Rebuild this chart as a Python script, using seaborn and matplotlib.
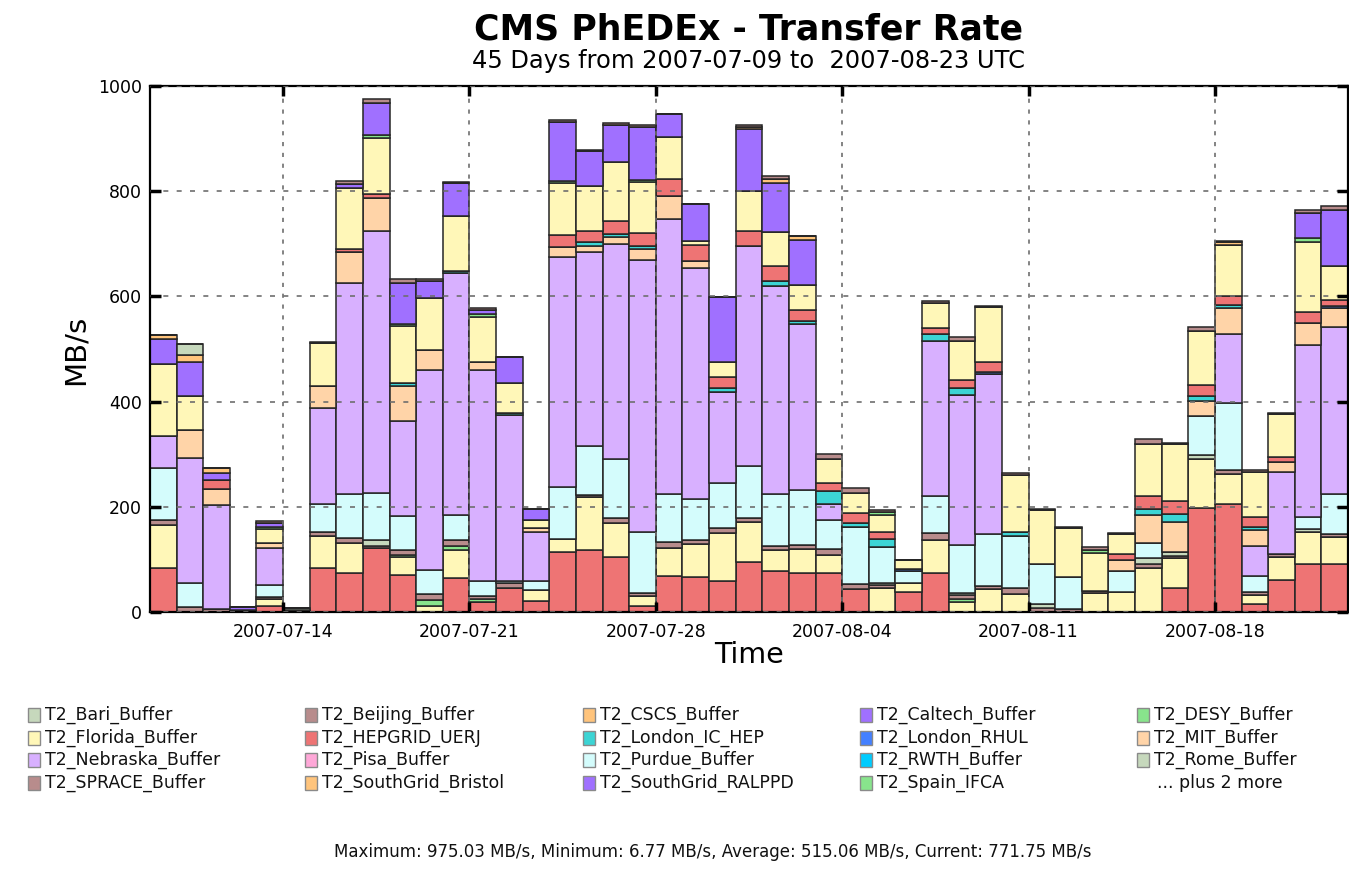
import numpy as np
import pandas as pd
import matplotlib
matplotlib.use("Agg")
import matplotlib.pyplot as plt
import seaborn as sns
from matplotlib.patches import Rectangle

# ---------------- data ----------------
days = pd.date_range("2007-07-09", periods=45, freq="D")
tick_days = ["2007-07-14", "2007-07-21", "2007-07-28", "2007-08-04", "2007-08-11", "2007-08-18"]

hepgrid = [84, 0, 0, 0, 12, 0, 84, 74, 122, 71, 0, 64, 19, 45, 20, 115, 117, 105, 12, 68,
           66, 58, 96, 78, 74, 74, 43, 0, 38, 74, 0, 0, 0, 0, 0, 0, 0, 0, 45, 198,
           205, 16, 61, 92, 92]
wisconsin = [81, 0, 0, 0, 13, 0, 60, 57, 0, 33, 12, 54, 0, 0, 22, 23, 101, 64, 18, 54,
             64, 92, 76, 40, 46, 34, 0, 45, 17, 62, 19, 43, 35, 0, 0, 37, 38, 83, 57, 93,
             58, 16, 44, 60, 51]
spain = [0, 0, 0, 0, 0, 0, 0, 0, 0, 4, 11, 8, 6, 0, 0, 0, 0, 0, 0, 0,
         0, 0, 0, 0, 0, 0, 0, 0, 0, 0, 6, 0, 0, 0, 0, 0, 0, 0, 0, 0,
         0, 0, 0, 0, 0]
beijing = [9, 9, 5, 4, 4, 3, 8, 10, 3, 9, 12, 10, 6, 10, 0, 0, 4, 10, 6, 11,
           6, 9, 7, 7, 8, 12, 10, 6, 0, 14, 7, 7, 11, 8, 6, 3, 0, 8, 5, 0,
           7, 6, 6, 0, 5]
rome = [0, 0, 0, 0, 0, 4, 0, 0, 11, 0, 0, 0, 0, 0, 0, 0, 0, 0, 0, 0,
        0, 0, 0, 0, 0, 0, 0, 4, 0, 0, 4, 0, 0, 8, 0, 0, 0, 11, 8, 7,
        0, 0, 0, 6, 0]
purdue = [99, 46, 0, 0, 22, 0, 53, 83, 91, 65, 44, 49, 27, 3, 16, 100, 93, 112, 116, 91,
          78, 87, 99, 99, 104, 54, 109, 68, 23, 70, 92, 99, 98, 76, 60, 0, 40, 29, 0, 74,
          128, 30, 0, 23, 76]
nebraska = [62, 237, 199, 0, 70, 0, 183, 401, 498, 182, 381, 459, 402, 316, 94, 436, 370, 409, 518, 523,
            440, 172, 417, 396, 315, 31, 0, 0, 0, 295, 285, 303, 0, 0, 0, 0, 0, 0, 0, 0,
            130, 57, 155, 326, 318]
mit = [0, 54, 30, 0, 10, 0, 41, 60, 63, 66, 38, 0, 15, 0, 7, 20, 10, 13, 21, 44,
       13, 0, 0, 0, 0, 0, 0, 0, 0, 0, 0, 0, 0, 0, 0, 0, 20, 54, 56, 30,
       50, 31, 19, 43, 36]
london_ic = [0, 0, 0, 0, 0, 0, 0, 0, 0, 5, 0, 5, 0, 4, 0, 0, 8, 6, 5, 0,
             0, 8, 0, 10, 7, 25, 8, 15, 0, 13, 13, 0, 8, 0, 0, 0, 0, 10, 16, 9,
             6, 6, 0, 0, 0]
london_rhul = [0, 0, 0, 0, 0, 0, 0, 0, 0, 0, 0, 0, 0, 0, 0, 0, 0, 0, 0, 0,
               0, 0, 0, 0, 0, 0, 0, 0, 3, 0, 0, 5, 0, 0, 0, 0, 0, 0, 0, 0,
               0, 0, 0, 0, 4]
ucsd = [0, 0, 17, 0, 0, 0, 0, 6, 7, 0, 0, 0, 0, 0, 0, 23, 22, 25, 24, 32,
        31, 20, 29, 27, 20, 15, 18, 14, 0, 11, 16, 18, 0, 0, 0, 0, 13, 26, 24, 20,
        16, 18, 9, 20, 12]
florida = [136, 65, 0, 0, 26, 0, 82, 115, 107, 109, 99, 104, 85, 58, 16, 98, 84, 111, 98, 80,
           7, 29, 77, 65, 48, 46, 39, 33, 17, 48, 74, 104, 108, 101, 93, 73, 37, 99, 108, 104,
           98, 86, 82, 134, 63]
desy = [0, 0, 0, 0, 5, 0, 0, 0, 5, 4, 0, 0, 7, 0, 0, 5, 0, 0, 4, 0,
        0, 0, 0, 0, 0, 0, 0, 5, 0, 0, 0, 0, 0, 0, 0, 5, 0, 0, 0, 0,
        0, 0, 0, 7, 0]
caltech = [48, 64, 13, 6, 7, 0, 0, 8, 60, 78, 32, 62, 7, 49, 20, 112, 67, 70, 100, 44,
           71, 124, 117, 93, 85, 0, 0, 0, 0, 0, 0, 0, 0, 0, 0, 0, 0, 0, 0, 0,
           0, 0, 0, 47, 108]
cscs = [7, 13, 10, 0, 0, 0, 0, 0, 0, 0, 0, 0, 0, 0, 0, 0, 0, 0, 0, 0,
        0, 0, 5, 8, 8, 0, 0, 0, 0, 0, 0, 0, 0, 0, 0, 0, 0, 0, 0, 0,
        6, 0, 0, 0, 0]
bari = [0, 21, 0, 0, 0, 0, 0, 0, 0, 0, 0, 0, 0, 0, 0, 0, 0, 0, 0, 0,
        0, 0, 0, 0, 0, 0, 0, 0, 0, 0, 0, 0, 0, 0, 0, 0, 0, 0, 0, 0,
        0, 0, 0, 0, 0]
sprace = [0, 0, 0, 0, 4, 0, 3, 6, 8, 7, 5, 3, 4, 0, 0, 3, 3, 4, 3, 0,
          0, 0, 3, 5, 0, 10, 9, 3, 0, 5, 6, 3, 4, 3, 3, 5, 2, 8, 3, 7,
          2, 4, 3, 7, 6]

# stacking order bottom -> top
stack = [
    ("T2_HEPGRID_UERJ", hepgrid, "#EE7474"),
    ("T2_Wisconsin_Buffer", wisconsin, "#FFF7B8"),
    ("T2_Spain_IFCA", spain, "#88E48C"),
    ("T2_Beijing_Buffer", beijing, "#B88C8C"),
    ("T2_Rome_Buffer", rome, "#C6D8BC"),
    ("T2_Purdue_Buffer", purdue, "#D4FCFC"),
    ("T2_Nebraska_Buffer", nebraska, "#D8B0FF"),
    ("T2_MIT_Buffer", mit, "#FFD4A8"),
    ("T2_London_IC_HEP", london_ic, "#3CD4D4"),
    ("T2_London_RHUL", london_rhul, "#4480FF"),
    ("T2_UCSD", ucsd, "#EE7474"),
    ("T2_Florida_Buffer", florida, "#FFF7B8"),
    ("T2_DESY_Buffer", desy, "#88E48C"),
    ("T2_Caltech_Buffer", caltech, "#A070FF"),
    ("T2_CSCS_Buffer", cscs, "#FFC47C"),
    ("T2_Bari_Buffer", bari, "#C6D8BC"),
    ("T2_SPRACE_Buffer", sprace, "#B88C8C"),
]

legend_names = [
    "T2_Bari_Buffer", "T2_Beijing_Buffer", "T2_CSCS_Buffer", "T2_Caltech_Buffer", "T2_DESY_Buffer",
    "T2_Florida_Buffer", "T2_HEPGRID_UERJ", "T2_London_IC_HEP", "T2_London_RHUL", "T2_MIT_Buffer",
    "T2_Nebraska_Buffer", "T2_Pisa_Buffer", "T2_Purdue_Buffer", "T2_RWTH_Buffer", "T2_Rome_Buffer",
    "T2_SPRACE_Buffer", "T2_SouthGrid_Bristol", "T2_SouthGrid_RALPPD", "T2_Spain_IFCA",
]
legend_colors = [
    "#C6D8BC", "#B88C8C", "#FFC47C", "#A070FF", "#88E48C",
    "#FFF7B8", "#EE7474", "#3CD4D4", "#4480FF", "#FFD4A8",
    "#D8B0FF", "#FFA8D8", "#D4FCFC", "#00CCFF", "#C6D8BC",
    "#B88C8C", "#FFC47C", "#A070FF", "#88E48C",
]

# ---------------- long-form table ----------------
rows = []
for name, vals, _ in stack:
    for i, v in enumerate(vals):
        rows.append({"day": i + 0.5, "rate": v, "site": name})
df = pd.DataFrame(rows)
palette = {name: col for name, _, col in stack}
hue_order = [name for name, _, _ in stack][::-1]  # first level drawn on top

# ---------------- figure ----------------
sns.set_style("white")
plt.rcParams["font.family"] = ["DejaVu Sans"]
plt.rcParams["text.color"] = "black"
plt.rcParams["axes.labelcolor"] = "black"
plt.rcParams["xtick.color"] = "black"
plt.rcParams["ytick.color"] = "black"

W, H = 1349, 874
fig = plt.figure(figsize=(W / 100, H / 100), dpi=100)
ax = fig.add_axes([150 / W, 1 - 612 / H, 1198 / W, 526 / H])

sns.histplot(data=df, x="day", weights="rate", hue="site", hue_order=hue_order,
             multiple="stack", binwidth=1, binrange=(0, 45), palette=palette,
             element="bars", alpha=1, edgecolor="#262626", linewidth=1.1,
             legend=False, ax=ax)

ax.set_xlim(0, 45)
ax.set_ylim(0, 1000)
tick_pos = [float((pd.Timestamp(d) - days[0]).days) for d in tick_days]
ax.set_xticks(tick_pos)
ax.set_xticklabels(tick_days, fontsize=12.5, color="black")
ax.set_yticks(np.arange(0, 1001, 200))
ax.set_yticklabels([str(v) for v in range(0, 1001, 200)], fontsize=12.5, color="black")
ax.set_xlabel("")
ax.set_ylabel("")

ax.tick_params(axis="y", direction="in", length=8, width=2.5, color="black",
               left=True, right=True, pad=6)
ax.tick_params(axis="x", direction="in", length=7, width=2.5, color="black",
               bottom=True, top=True, pad=8)

ax.set_axisbelow(False)
ax.yaxis.grid(True, linestyle=(0, (3, 5)), color="#6e6e6e", linewidth=1.2)
ax.xaxis.grid(True, linestyle=(0, (2.5, 4)), color="#6e6e6e", linewidth=1.2)
for s in ax.spines.values():
    s.set_color("black")
    s.set_linewidth(1.6)
    s.set_visible(True)

# titles and labels
cx = 749 / W
fig.text(cx, 1 - 30 / H, "CMS PhEDEx - Transfer Rate", ha="center", va="center",
         fontsize=25, fontweight="bold", color="black")
fig.text(cx, 1 - 61 / H, "45 Days from 2007-07-09 to  2007-08-23 UTC", ha="center",
         va="center", fontsize=17.4, color="black")
fig.text(76 / W, 1 - 350 / H, "MB/s", rotation=90, ha="center", va="center",
         fontsize=21, color="black")
fig.text(cx, 1 - 655 / H, "Time", ha="center", va="center", fontsize=20.5, color="black")

# legend (row-wise, 5 columns)
col_x = [28, 305, 583, 860, 1137]
row_y = [715, 738, 760, 783]
for k, (nm, colr) in enumerate(zip(legend_names, legend_colors)):
    r, c = divmod(k, 5)
    x0, yc = col_x[c], row_y[r]
    fig.patches.append(Rectangle((x0 / W, 1 - (yc + 7) / H), 12 / W, 14 / H,
                                 transform=fig.transFigure, facecolor=colr,
                                 edgecolor="#8a8a8a", linewidth=1))
    fig.text((x0 + 17) / W, 1 - yc / H, nm, ha="left", va="center", fontsize=12.5,
             color="#111111")
fig.text((col_x[4] + 20) / W, 1 - row_y[3] / H, "... plus 2 more", ha="left",
         va="center", fontsize=12.5, color="#111111")

fig.text(713 / W, 1 - 852 / H,
         "Maximum: 975.03 MB/s, Minimum: 6.77 MB/s, Average: 515.06 MB/s, Current: 771.75 MB/s",
         ha="center", va="center", fontsize=12, color="#111111")

fig.savefig("out.png", dpi=100)
